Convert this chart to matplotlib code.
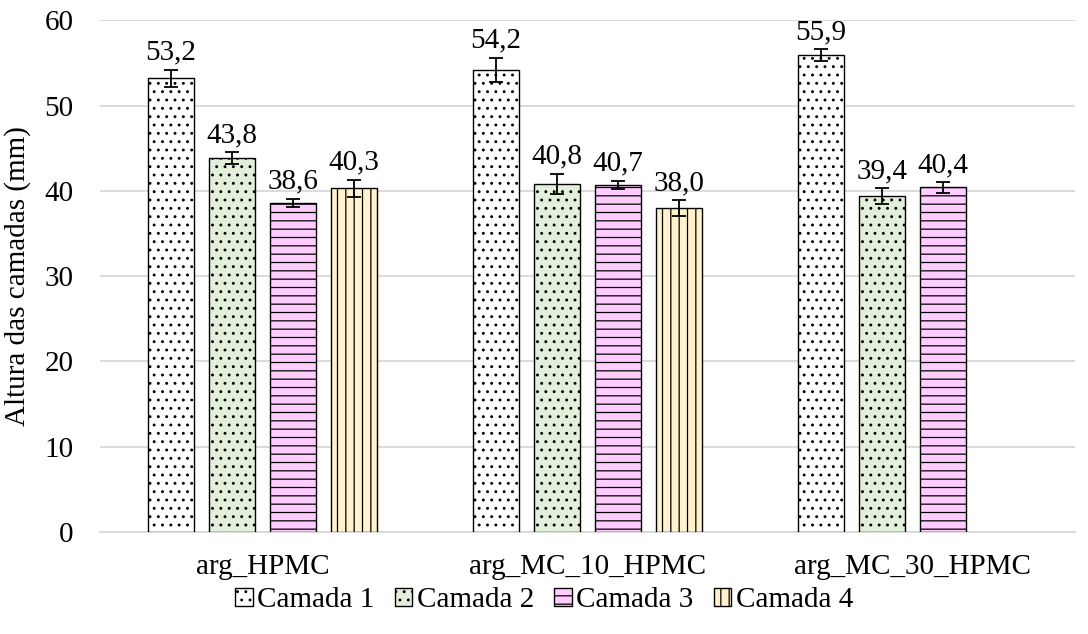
import matplotlib
matplotlib.use("Agg")
import matplotlib.pyplot as plt
import numpy as np

plt.rcParams['font.family'] = ['Liberation Serif', 'DejaVu Serif']
plt.rcParams['hatch.linewidth'] = 0.9

grupos = ["arg_HPMC", "arg_MC_10_HPMC", "arg_MC_30_HPMC"]
camadas = ["Camada 1", "Camada 2", "Camada 3", "Camada 4"]

# altura média por camada (mm), NaN = sem camada
camada1 = [53.2, 54.2, 55.9]
camada2 = [43.8, 40.8, 39.4]
camada3 = [38.6, 40.7, 40.4]
camada4 = [40.3, 38.0, np.nan]

# desvio padrão
err1 = [1.0, 1.4, 0.7]
err2 = [0.7, 1.2, 0.9]
err3 = [0.5, 0.5, 0.6]
err4 = [1.0, 0.9, np.nan]

valores = [camada1, camada2, camada3, camada4]
erros = [err1, err2, err3, err4]
cores = ["#FFFFFF", "#E2EFDA", "#FFCCFF", "#FFF2CC"]
hachuras = ["..", "..", "--", "||"]

fs = 21

fig = plt.figure(figsize=(10.88, 6.34), dpi=100)
ax = fig.add_axes([0.092, 0.161, 0.896, 0.807])

x = np.arange(len(grupos))
largura = 0.142
passo = 0.188

for i, (vals, errs) in enumerate(zip(valores, erros)):
    pos = x + (i - 1.5) * passo
    vals = np.array(vals, dtype=float)
    errs = np.array(errs, dtype=float)
    ok = ~np.isnan(vals)
    ax.bar(pos[ok], vals[ok], width=largura, color=cores[i], edgecolor="black",
           linewidth=1.0, hatch=hachuras[i], label=camadas[i], zorder=3)
    ax.errorbar(pos[ok], vals[ok], yerr=errs[ok], fmt="none", ecolor="black",
                elinewidth=1.3, capsize=5, capthick=1.3, zorder=4)
    for p, v, e in zip(pos[ok], vals[ok], errs[ok]):
        ax.text(p, v + e + 0.5, f"{v:.1f}".replace(".", ","), ha="center",
                va="bottom", fontsize=fs)

ax.set_xlim(-0.5, 2.5)
ax.set_ylim(0, 60)
ax.set_yticks(np.arange(0, 61, 10))
ax.set_xticks(x)
ax.set_xticklabels(grupos)
ax.tick_params(axis="both", length=0, labelsize=fs)
ax.tick_params(axis="x", pad=16)
ax.tick_params(axis="y", pad=19)
ax.set_ylabel("Altura das camadas (mm)", fontsize=fs, labelpad=10)
ax.yaxis.grid(True, color="#D9D9D9", linewidth=1.3, zorder=0)
ax.set_axisbelow(True)
for s in ["top", "right", "left"]:
    ax.spines[s].set_visible(False)
ax.spines["bottom"].set_color("#D9D9D9")
ax.spines["bottom"].set_linewidth(1.3)

fig.legend(loc="center", bbox_to_anchor=(0.5, 0.053), ncol=4, frameon=False,
           fontsize=fs, handlelength=0.6, handleheight=0.6, handletextpad=0.15,
           columnspacing=0.7)

fig.savefig("out.png", dpi=100)
